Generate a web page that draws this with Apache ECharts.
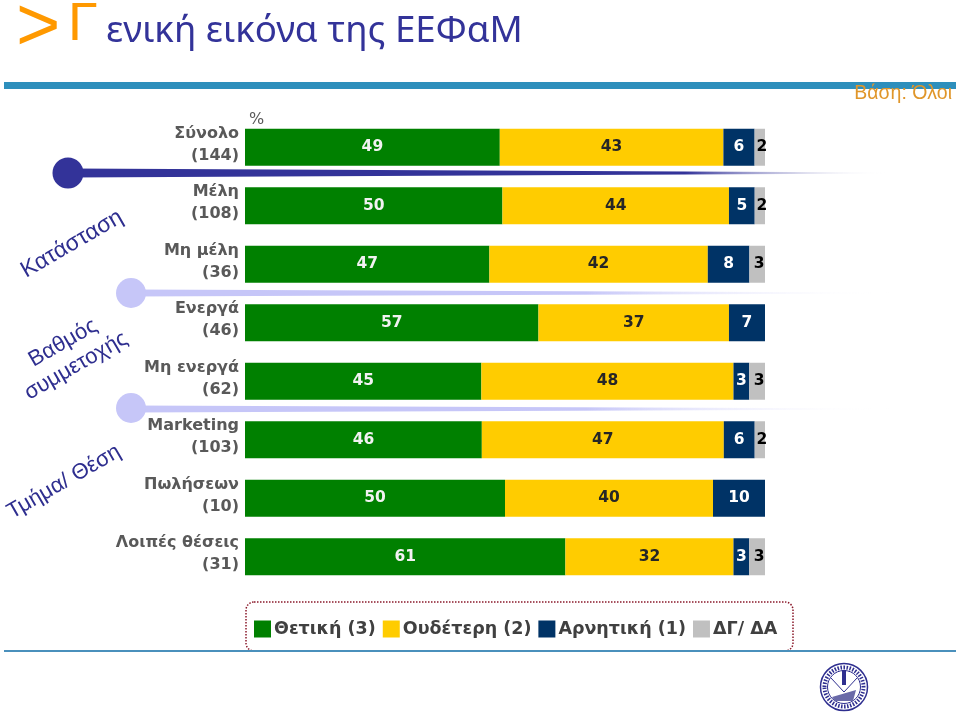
<!DOCTYPE html>
<html><head><meta charset="utf-8">
<style>html,body{margin:0;padding:0;background:#fff}#c{width:959px;height:713px}</style>
<script src="https://cdn.jsdelivr.net/npm/echarts@6/dist/echarts.min.js"></script>
</head><body><div id="c"></div>
<script>
const categories = ['Σύνολο\n(144)','Μέλη\n(108)','Μη μέλη\n(36)','Ενεργά\n(46)','Μη ενεργά\n(62)','Marketing\n(103)','Πωλήσεων\n(10)','Λοιπές θέσεις\n(31)'];
const positive = [49,50,47,57,45,46,50,61];
const neutral  = [43,44,42,37,48,47,40,32];
const negative = [6,5,8,7,3,6,10,3];
const noAnswer = [2,2,3,0,3,2,0,3];
const seriesNames = ['Θετική (3)','Ουδέτερη (2)','Αρνητική (1)','ΔΓ/ ΔΑ'];
const colors = ['#008000','#FFCC00','#003366','#C0C0C0'];
const labelColors = ['#F2F2F2','#262626','#FFFFFF','#000000'];
const all = [positive,neutral,negative,noAnswer];
const totals = categories.map((_,i)=>all.reduce((s,a)=>s+a[i],0));
const LF = 'DejaVu Sans';
const TF = 'Liberation Sans';

function taper(x0,y,thick,c1,fadeAt){
  return {type:'polygon',z:1,shape:{points:[[x0,y-thick/2],[890,y-0.5],[890,y+0.5],[x0,y+thick/2]]},
    style:{fill:new echarts.graphic.LinearGradient(0,0,1,0,[{offset:0,color:c1},{offset:fadeAt,color:c1},{offset:1,color:'rgba(255,255,255,0)'}])}};
}
function rotText(t,x,y,size){
  return {type:'text',x:x,y:y,rotation:Math.PI/6,z:5,style:{text:t,fill:'#2E2E8F',font:size+'px "'+TF+'"',align:'center',verticalAlign:'middle'}};
}
const chart = echarts.init(document.getElementById('c'),null,{renderer:'canvas'});
chart.setOption({
  animation:false,
  grid:{left:245,top:118,width:520,height:468,containLabel:false},
  xAxis:{type:'value',min:0,max:100,show:false},
  yAxis:{type:'category',inverse:true,data:categories,axisLine:{show:false},axisTick:{show:false},
    axisLabel:{margin:6,align:'right',
      formatter:v=>v.split('\n').map(s=>'{a|'+s+'}').join('\n')+'\n{s| }',
      rich:{a:{color:'#595959',fontFamily:LF,fontWeight:'bold',fontSize:16,lineHeight:22,align:'right'},
            s:{fontSize:1,lineHeight:5}}}},
  legend:{left:249,top:615,itemWidth:17,itemHeight:17,itemGap:7,icon:'rect',selectedMode:false,
    textStyle:{color:'#404040',fontFamily:LF,fontWeight:'bold',fontSize:17.5,padding:[0,0,0,-2]},data:seriesNames},
  series:all.map((arr,k)=>({
    name:seriesNames[k],type:'bar',stack:'t',barWidth:37,itemStyle:{color:colors[k]},z:3,
    data:arr.map((v,i)=>({value:v/totals[i]*100,raw:v})),
    label:{show:true,position:'inside',color:labelColors[k],fontFamily:LF,fontWeight:'bold',fontSize:15.5,
      offset:k===3?[2,0]:[0,0],formatter:p=>p.data.raw?String(p.data.raw):''}
  })),
  graphic:[
    {type:'text',x:16,y:29,z:5,style:{text:'>',fill:'#FF9900',font:'76px "Liberation Sans"',verticalAlign:'middle'}},
    {type:'text',x:68,y:25,z:5,style:{text:'Γ',fill:'#FF9900',font:'54px "Liberation Sans"',verticalAlign:'middle'}},
    {type:'text',x:106,y:32,z:5,style:{text:'ενική εικόνα της ΕΕΦαΜ',fill:'#333399',font:'36.7px "Noto Sans"',verticalAlign:'middle'}},
    {type:'rect',z:0,shape:{x:4,y:82,width:952,height:7},style:{fill:'#2E8FBC'}},
    {type:'text',x:952,y:94,z:5,style:{text:'Βάση: Όλοι',fill:'#E0962A',font:'19.5px "Liberation Sans"',align:'right',verticalAlign:'middle'}},
    {type:'text',x:249,y:120,z:5,style:{text:'%',fill:'#595959',font:'16px "'+LF+'"',verticalAlign:'middle'}},
    taper(70,173,9,'#333399',0.75),
    {type:'circle',z:2,shape:{cx:68,cy:173,r:15.5},style:{fill:'#333399'}},
    taper(131,293,7,'#C6C6F8',0.6),
    {type:'circle',z:2,shape:{cx:131,cy:293,r:15},style:{fill:'#C6C6F8'}},
    taper(131,409,7,'#C6C6F8',0.6),
    {type:'circle',z:2,shape:{cx:131,cy:408,r:15},style:{fill:'#C6C6F8'}},
    rotText('Κατάσταση',72,244,23),
    rotText('Βαθμός',63,343,22),
    rotText('συμμετοχής',76,366,22),
    rotText('Τμήμα/ Θέση',64,482,22),
    {type:'rect',z:1,shape:{x:246,y:602,width:547,height:49,r:8},style:{fill:'#fff',stroke:'#8B1A2B',lineWidth:1.5,lineDash:[1.5,1.5]}},
    {type:'rect',z:2,shape:{x:4,y:650,width:952,height:2},style:{fill:'#4A90BC'}},
    {type:'ellipse',z:2,shape:{cx:844,cy:687,rx:23.5,ry:23.5},style:{fill:'#fff',stroke:'#2E2E8F',lineWidth:1.5}},
    {type:'ellipse',z:2,shape:{cx:844,cy:687,rx:19.5,ry:19.5},style:{fill:'#fff',stroke:'#2E2E8F',lineWidth:4,lineDash:[1.5,1.5]}},
    {type:'ellipse',z:2,shape:{cx:844,cy:687,rx:16.5,ry:16.5},style:{fill:'#fff',stroke:'#2E2E8F',lineWidth:1}},
    {type:'polyline',z:2,shape:{points:[[831,678],[844,692],[857,678]]},style:{fill:'none',stroke:'#2E2E8F',lineWidth:1}},
    {type:'rect',z:2,shape:{x:842,y:670,width:4,height:15},style:{fill:'#2E2E8F'}},
    {type:'polygon',z:2,shape:{points:[[832,697],[856,690],[853,701],[835,701]]},style:{fill:'#6A6AA8'}}
  ]
});
</script></body></html>
